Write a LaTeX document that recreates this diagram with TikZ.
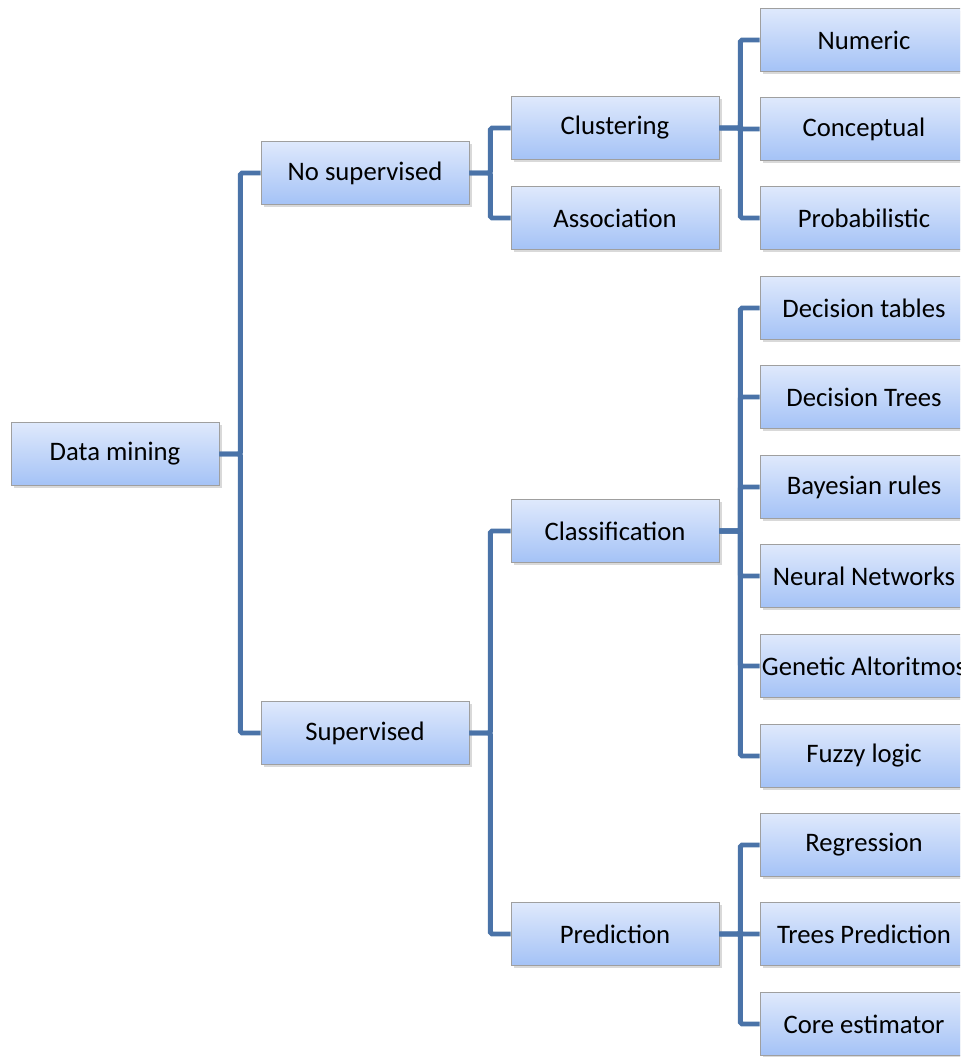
\documentclass[tikz,border=0pt]{standalone}
\usepackage{fontspec}
\setmainfont{Carlito}
\usetikzlibrary{shadows}
\definecolor{linkblue}{RGB}{74,115,168}
\definecolor{boxtop}{RGB}{223,233,252}
\definecolor{boxbottom}{RGB}{164,194,246}

\begin{document}
\begin{tikzpicture}[x=0.02cm,y=-0.02cm,
  box/.style={draw=gray!75, top color=boxtop, bottom color=boxbottom,
    minimum width=4.16cm, minimum height=1.27cm, inner sep=0pt,
    font=\fontsize{15.2}{17}\selectfont,
    drop shadow={shadow xshift=1.5pt, shadow yshift=-1.5pt, opacity=0.3}},
  link/.style={draw=linkblue, line width=2.8pt, rounded corners=1pt}]
\clip (0,0) rectangle (960,1057);
% root and first level
\node[box] (dm)   at (115,454) {Data mining};
\node[box] (ns)   at (365,173) {No supervised};
\node[box] (sup)  at (365,733) {Supervised};
% second level
\node[box] (clu)  at (615,128) {Clustering};
\node[box] (asso) at (615,218) {Association};
\node[box] (cla)  at (615,531) {Classification};
\node[box] (pre)  at (615,934) {Prediction};
% leaves
\node[box] (num)  at (864,40)   {Numeric};
\node[box] (con)  at (864,129)  {Conceptual};
\node[box] (prob) at (864,218)  {Probabilistic};
\node[box] (dtab) at (864,308)  {Decision tables};
\node[box] (dtre) at (864,397)  {Decision Trees};
\node[box] (bay)  at (864,487)  {Bayesian rules};
\node[box] (neu)  at (864,576)  {Neural Networks};
\node[box] (gen)  at (864,666)  {Genetic Altoritmos};
\node[box] (fuz)  at (864,756)  {Fuzzy logic};
\node[box] (reg)  at (864,845)  {Regression};
\node[box] (tpre) at (864,934)  {Trees Prediction};
\node[box] (core) at (864,1024) {Core estimator};
% connectors
\draw[link] (dm.east) -- ++(21,0) |- (ns.west);
\draw[link] (dm.east) -- ++(21,0) |- (sup.west);
\draw[link] (ns.east) -- ++(21,0) |- (clu.west);
\draw[link] (ns.east) -- ++(21,0) |- (asso.west);
\draw[link] (sup.east) -- ++(21,0) |- (cla.west);
\draw[link] (sup.east) -- ++(21,0) |- (pre.west);
\draw[link] (clu.east) -- ++(21,0) |- (num.west);
\draw[link] (clu.east) -- ++(21,0) |- (con.west);
\draw[link] (clu.east) -- ++(21,0) |- (prob.west);
\draw[link] (cla.east) -- ++(21,0) |- (dtab.west);
\draw[link] (cla.east) -- ++(21,0) |- (dtre.west);
\draw[link] (cla.east) -- ++(21,0) |- (bay.west);
\draw[link] (cla.east) -- ++(21,0) |- (neu.west);
\draw[link] (cla.east) -- ++(21,0) |- (gen.west);
\draw[link] (cla.east) -- ++(21,0) |- (fuz.west);
\draw[link] (pre.east) -- ++(21,0) |- (reg.west);
\draw[link] (pre.east) -- ++(21,0) |- (tpre.west);
\draw[link] (pre.east) -- ++(21,0) |- (core.west);
\end{tikzpicture}
\end{document}
